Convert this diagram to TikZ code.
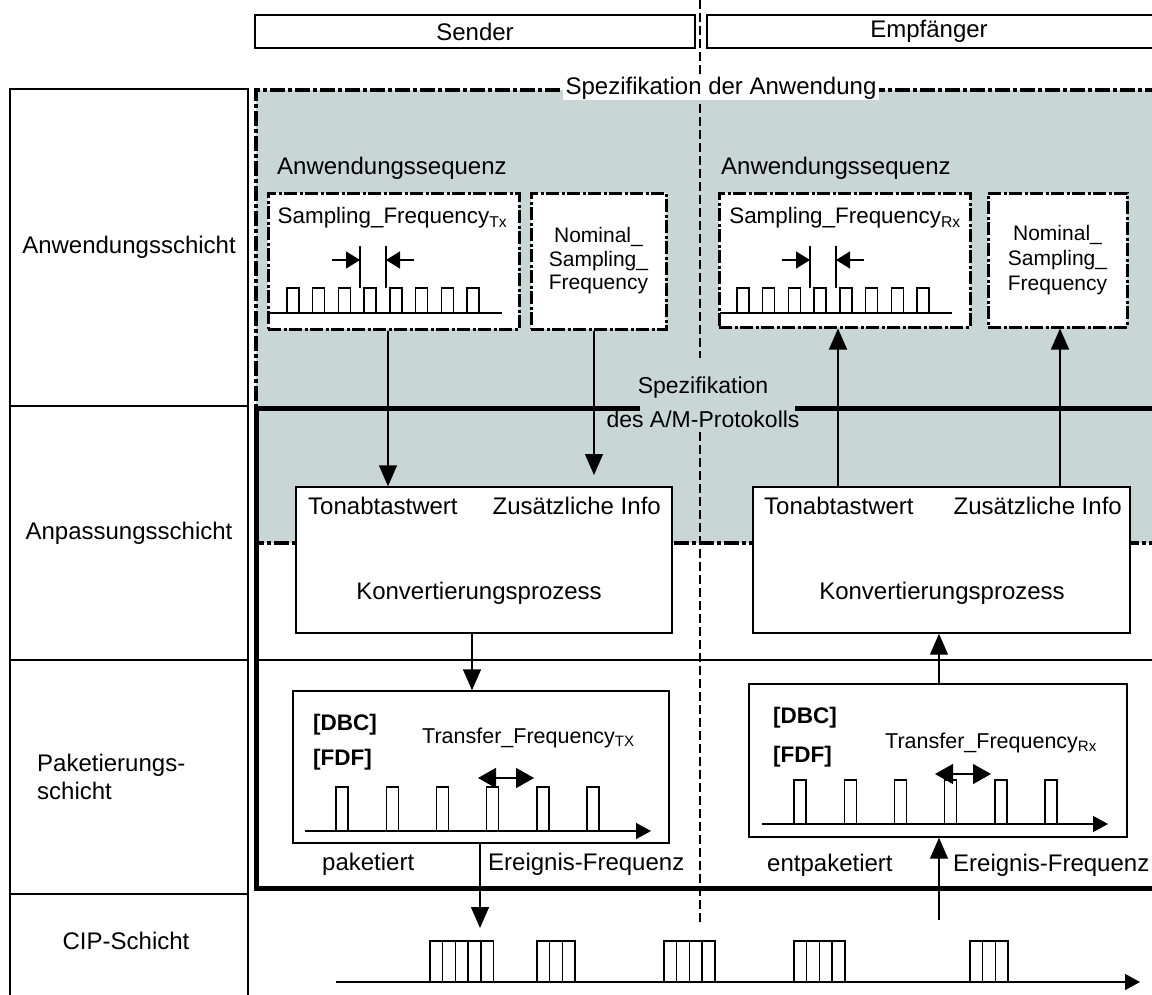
\documentclass[tikz,border=0pt]{standalone}
\usepackage{fontspec}
\setmainfont{Liberation Sans}
\usetikzlibrary{arrows.meta}
\definecolor{appgray}{RGB}{201,214,214}

\begin{document}
\begin{tikzpicture}[x=1pt,y=-1pt,
  font=\fontsize{24}{28}\selectfont,
  thinline/.style={line width=1.4pt},
  frame/.style={draw, thinline, inner sep=0pt},
  seqbox/.style={draw, fill=white, line width=3pt,
    dash pattern=on 13pt off 2.5pt on 3pt off 2.5pt, inner sep=0pt},
  procbox/.style={draw, fill=white, line width=1.4pt, inner sep=0pt},
  specdash/.style={line width=4pt, dash pattern=on 15pt off 3pt on 4pt off 3pt},
  specsolid/.style={line width=5pt},
  midline/.style={line width=1.6pt, dash pattern=on 9pt off 4pt},
  flow/.style={thinline, -{Triangle[length=21pt,width=18pt]}},
  gap/.style={thinline, -{Triangle[length=14pt,width=17pt]}},
  span/.style={thinline, {Triangle[length=18pt,width=20pt]}-{Triangle[length=18pt,width=20pt]}},
  axis/.style={thinline, -{Triangle[length=15pt,width=16pt]}},
  lab/.style={inner sep=0pt},
  small/.style={font=\fontsize{21.5}{24}\selectfont},
  boldlab/.style={inner sep=0pt, anchor=west, font=\fontsize{22.5}{26}\selectfont\bfseries},
]
% page frame
\clip (0,0) rectangle (1152,994);
\fill[white] (0,0) rectangle (1152,994);

% layer column
\node[frame, minimum width=238pt, minimum height=317pt] (lay1) at (129,247.5) {Anwendungsschicht};
\node[frame, minimum width=238pt, minimum height=254pt] (lay2) at (129,533) {Anpassungsschicht};
\node[frame, minimum width=238pt, minimum height=234pt] (lay3) at (129,777) {};
\node[lab, anchor=west, align=left] (lay3txt) at (37,777) {Paketierungs-\\schicht};
\node[frame, minimum width=238pt, minimum height=120pt] (lay4) at (129,954) {};
\node[lab] (lay4txt) at (126,941) {CIP-Schicht};

% sender / receiver headers
\node[frame, minimum width=440pt, minimum height=33pt] (sender) at (475,31.5) {Sender};
\node[frame, minimum width=460pt, minimum height=33pt] (empf) at (937,31.5) {};
\node[lab] (empftxt) at (929,31.5) {Empfänger};

% application specification area
\fill[appgray] (256,90) rectangle (1160,543);
\draw[thinline] (256,660) -- (1160,660);

% sender / receiver separator
\draw[midline] (700,0) -- (700,358);
\draw[midline] (700,432) -- (700,925);

% specification borders
\draw[specdash] (1160,90) -- (256,90) -- (256,543) -- (1160,543);
\draw[specsolid] (640,408) -- (256,408) -- (256,888) -- (1160,888);
\draw[specsolid] (795,408) -- (1160,408);

\node[fill=white, inner xsep=3pt, inner ysep=1pt] (specapp) at (721,88) {Spezifikation der Anwendung};
\node[align=center, inner sep=0pt, font=\fontsize{23}{34}\selectfont] (specam) at (703,402) {Spezifikation\\des A/M-Protokolls};

% application sequences
\node[lab, anchor=west] (seqlbltx) at (277,168) {Anwendungssequenz};
\node[lab, anchor=west] (seqlblrx) at (721,168) {Anwendungssequenz};

\node[seqbox, minimum width=251pt, minimum height=136pt] (seqtx) at (393.5,261) {};
\node[seqbox, minimum width=135pt, minimum height=136pt, align=center,
  font=\fontsize{21}{23.5}\selectfont] (nomtx) at (598.5,261) {Nominal\_\\Sampling\_\\Frequency};
\node[seqbox, minimum width=251pt, minimum height=134pt] (seqrx) at (844.5,260) {};
\node[seqbox, minimum width=139pt, minimum height=134pt, align=center,
  font=\fontsize{21}{25}\selectfont] (nomrx) at (1057.5,260) {Nominal\_\\Sampling\_\\Frequency};

\node[lab, font=\fontsize{22.4}{26}\selectfont] (sftx) at (392.5,218) {Sampling\_Frequency\textsubscript{Tx}};
\node[lab, font=\fontsize{22.4}{26}\selectfont] (sfrx) at (845,218) {Sampling\_Frequency\textsubscript{Rx}};

% sample pulses with period marks
\foreach \dx in {0,450} {
  \begin{scope}[thinline, xshift=\dx pt]
    \foreach \i in {0,...,7} {
      \draw (287+25.7*\i,313) -- ++(0,-25) -- ++(12,0) -- ++(0,25);
    }
    \draw (270,313) -- (502,313);
    \draw (360,246) -- (360,288);
    \draw (386,246) -- (386,288);
    \draw[gap] (332,260) -- (360,260);
    \draw[gap] (414,260) -- (386,260);
  \end{scope}
}

% conversion processes
\node[procbox, minimum width=376pt, minimum height=146pt] (convtx) at (484,560) {};
\node[procbox, minimum width=377pt, minimum height=146pt] (convrx) at (941.5,560) {};
\node[lab, anchor=west] (tontx) at (308,506) {Tonabtastwert};
\node[lab, anchor=east] (zustx) at (661,506) {Zusätzliche Info};
\node[lab] (kontx) at (479,593) {Konvertierungsprozess};
\node[lab, anchor=west] (tonrx) at (764,506) {Tonabtastwert};
\node[lab, anchor=east] (zusrx) at (1122,506) {Zusätzliche Info};
\node[lab] (konrx) at (942,593) {Konvertierungsprozess};

% packetizing
\node[procbox, minimum width=376pt, minimum height=152pt] (pkttx) at (481,767) {};
\node[procbox, minimum width=378pt, minimum height=153pt] (pktrx) at (938,760.5) {};

\node[boldlab] (dbctx) at (313,725) {[DBC]};
\node[boldlab] (fdftx) at (313,760) {[FDF]};
\node[lab, anchor=west, small] (tftx) at (422,738) {Transfer\_Frequency\textsubscript{TX}};
\node[boldlab] (dbcrx) at (773,718) {[DBC]};
\node[boldlab] (fdfrx) at (773,757) {[FDF]};
\node[lab, anchor=west, small] (tfrx) at (885,743) {Transfer\_Frequency\textsubscript{Rx}};

\foreach \x/\y/\xa in {336/831/305, 794/824/762} {
  \begin{scope}[thinline]
    \foreach \i in {0,...,5} {
      \draw (\x+50.2*\i,\y) -- ++(0,-44) -- ++(12,0) -- ++(0,44);
    }
    \draw[axis] (\xa,\y) -- (\xa+346,\y);
  \end{scope}
}
\draw[span] (478,778) -- (534,778);
\draw[span] (935,774) -- (991,774);

\node[lab, anchor=west] (paktx) at (322,864) {paketiert};
\node[lab, anchor=west] (evtx) at (488,864) {Ereignis-Frequenz};
\node[lab, anchor=west] (pakrx) at (767,865) {entpaketiert};
\node[lab, anchor=west] (evrx) at (953,865) {Ereignis-Frequenz};

% CIP packet stream
\foreach \a/\n in {430/5,537/3,664/4,794/4,970/3} {
  \draw[thinline] (\a,982) -- (\a,941) -- (\a+\n*12.7,941) -- (\a+\n*12.7,982);
  \foreach \i in {1,...,\n} {
    \draw[thinline] (\a+\i*12.7,941) -- (\a+\i*12.7,982);
  }
}
\draw[axis] (336,982) -- (1140,982);

% data flow between the layers
\coordinate (xa) at (388,0);
\coordinate (xc) at (838,0);
\coordinate (xd) at (1060,0);
\coordinate (xe) at (472,0);
\coordinate (xf) at (939,0);
\coordinate (zinfotx) at (594,475);
\coordinate (ciptx) at (480,928);
\coordinate (ciprx) at (939,920);

\draw[flow] (seqtx.south -| xa) -- (convtx.north -| xa);
\draw[flow] (nomtx.south -| zinfotx) -- (zinfotx);
\draw[flow] (convrx.north -| xc) -- (seqrx.south -| xc);
\draw[flow] (convrx.north -| xd) -- (nomrx.south -| xd);
\draw[flow] (convtx.south -| xe) -- (pkttx.north -| xe);
\draw[flow] (pktrx.north -| xf) -- (convrx.south -| xf);
\draw[flow] (pkttx.south -| ciptx) -- (ciptx);
\draw[flow] (ciprx) -- (pktrx.south -| ciprx);
\end{tikzpicture}
\end{document}
